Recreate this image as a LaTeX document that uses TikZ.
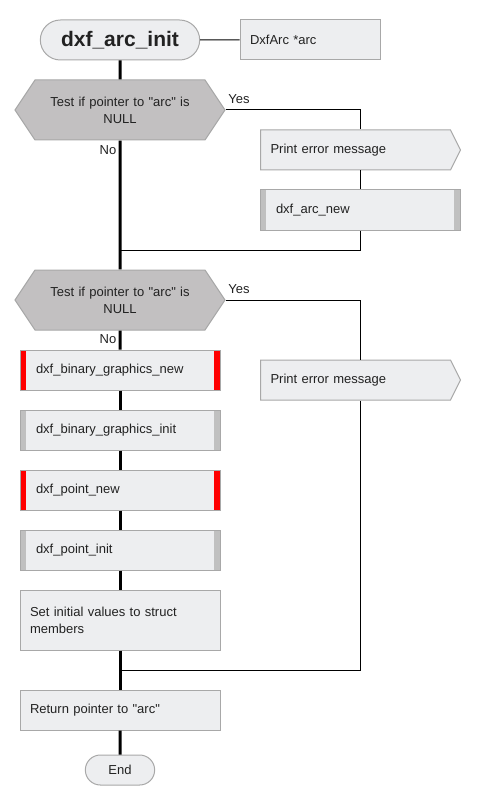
\documentclass[tikz,border=0pt]{standalone}
\usepackage{fontspec}
\setmainfont{Liberation Sans}[Ligatures=TeXOff]
\usetikzlibrary{shapes.symbols,shapes.misc}

\definecolor{boxfill}{HTML}{EDEEF0}
\definecolor{boxline}{HTML}{A8A8A8}
\definecolor{decfill}{HTML}{C2C0C1}
\definecolor{barfill}{HTML}{C0C0C0}
\definecolor{txt}{HTML}{222222}

\tikzset{
  base/.style={draw=boxline, fill=boxfill, line width=1pt, text=txt, font=\fontsize{13}{17}\selectfont},
  proc/.style={base, rectangle, minimum width=200pt, minimum height=40pt, text width=180pt, inner xsep=10pt, align=left},
  subproc/.style={proc, text width=168pt, inner xsep=16pt, path picture={
      \fill[#1] (path picture bounding box.north west) rectangle ([xshift=6pt]path picture bounding box.south west);
      \fill[#1] (path picture bounding box.north east) rectangle ([xshift=-6pt]path picture bounding box.south east);}},
  subproc/.default=barfill,
  term/.style={base, rounded rectangle, minimum height=40pt, minimum width=166pt},
  decision/.style={base, fill=decfill, signal, signal to=west and east, signal pointer angle=112.6,
      minimum width=210pt, minimum height=60pt, text width=170pt, align=center, inner sep=0pt},
  msg/.style={base, signal, signal to=east, signal pointer angle=126.9, minimum width=195pt,
      minimum height=40pt, text width=170pt, inner xsep=10pt, align=left},
  trunk/.style={line width=3pt},
  flow/.style={line width=1pt},
  lbl/.style={text=txt, font=\fontsize{13}{15}\selectfont, inner sep=0pt}
}

\begin{document}
\begin{tikzpicture}[x=1pt, y=-1pt]
  \useasboundingbox (0,0) rectangle (480,810);

  % start and parameter
  \node[term, font=\fontsize{21}{25}\selectfont\bfseries] (start) at (120,40) {dxf\_arc\_init};
  \node[proc, text width=120pt, minimum width=140pt] (param) at (310,40) {DxfArc *arc};

  % first check
  \node[decision] (dec1) at (120,110) {Test if pointer to "arc" is\\NULL};
  \node[msg, anchor=west] (msg1) at (260,150) {Print error message};
  \node[subproc] (arcnew) at (360,210) {dxf\_arc\_new};
  \coordinate (join1) at (120,250);

  % second check
  \node[decision] (dec2) at (120,300) {Test if pointer to "arc" is\\NULL};
  \node[msg, anchor=west] (msg2) at (260,380) {Print error message};
  \node[subproc=red] (bgnew) at (120,370) {dxf\_binary\_graphics\_new};
  \node[subproc] (bginit) at (120,430) {dxf\_binary\_graphics\_init};
  \node[subproc=red] (ptnew) at (120,490) {dxf\_point\_new};
  \node[subproc] (ptinit) at (120,550) {dxf\_point\_init};
  \node[proc, minimum height=60pt] (setvals) at (120,620) {Set initial values to struct\\members};
  \coordinate (join2) at (120,670);
  \node[proc] (ret) at (120,710) {Return pointer to "arc"};
  \node[term, minimum width=76pt, minimum height=30pt] (stop) at (120,770) {End};

  % main line
  \draw[trunk] (start) -- (dec1);
  \draw[trunk] (dec1) -- (dec2);
  \draw[trunk] (dec2) -- (bgnew);
  \draw[trunk] (bgnew) -- (bginit);
  \draw[trunk] (bginit) -- (ptnew);
  \draw[trunk] (ptnew) -- (ptinit);
  \draw[trunk] (ptinit) -- (setvals);
  \draw[trunk] (setvals) -- (ret);
  \draw[trunk] (ret) -- (stop);

  % side branches
  \draw[flow] (start) -- (param);
  \draw[flow] (dec1.east) -| (msg1.north -| arcnew.north);
  \draw[flow] (msg1.south -| arcnew.north) -- (arcnew);
  \draw[flow] (arcnew.south) |- (join1);
  \draw[flow] (dec2.east) -| (msg2.north -| arcnew.north);
  \draw[flow] (msg2.south -| arcnew.north) |- (join2);

  \node[lbl] (yes1) at (239,99) {Yes};
  \node[lbl] (no1) at (108,150) {No};
  \node[lbl] (yes2) at (239,289) {Yes};
  \node[lbl] (no2) at (108,339) {No};
\end{tikzpicture}
\end{document}
